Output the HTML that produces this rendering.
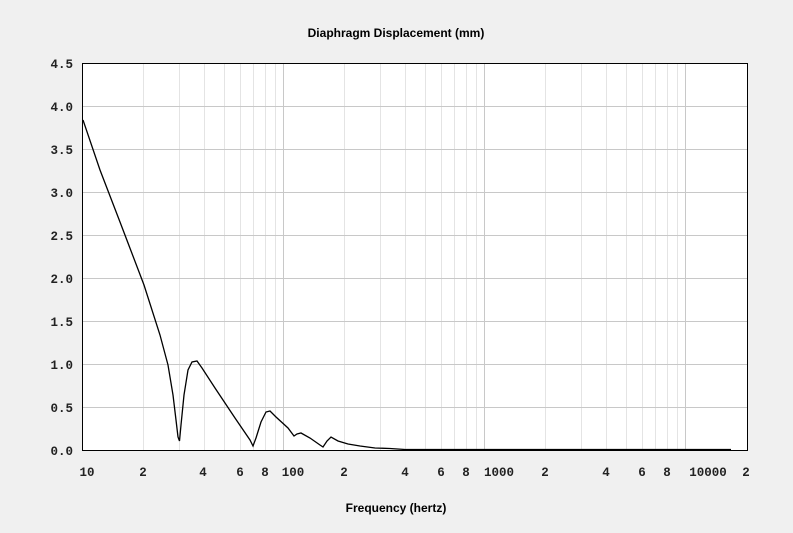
<!DOCTYPE html><html><head><style>body{margin:0;background:#f0f0f0}svg{display:block}</style></head><body>
<svg width="793" height="533" xmlns="http://www.w3.org/2000/svg">
<rect width="793" height="533" fill="#f0f0f0"/>
<rect x="82.5" y="63.5" width="665" height="387" fill="#fff"/>
<g stroke="#e4e4e4" stroke-width="1">
<path d="M143.5 63V450M179.5 63V450M204.5 63V450M224.5 63V450M240.5 63V450M253.5 63V450M265.5 63V450M275.5 63V450M344.5 63V450M380.5 63V450M405.5 63V450M425.5 63V450M441.5 63V450M454.5 63V450M466.5 63V450M476.5 63V450M545.5 63V450M581.5 63V450M606.5 63V450M626.5 63V450M642.5 63V450M655.5 63V450M667.5 63V450M677.5 63V450"/>
</g>
<g stroke="#c8c8c8" stroke-width="1">
<path d="M283.5 63V450M484.5 63V450M685.5 63V450M83 106.5H747M83 149.5H747M83 192.5H747M83 235.5H747M83 278.5H747M83 321.5H747M83 364.5H747M83 407.5H747"/>
</g>
<rect x="82.5" y="63.5" width="665" height="387" fill="none" stroke="#000"/>
<polyline fill="none" stroke="#000" stroke-width="1.3" points="83,120 100,170 120,222 144,285 160,335 168,365 173,395 176,420 178,437 179.5,441 181,425 184,395 188,370 192,362 197,361 202,368 215,388 235,418 250,440 253,446 256,438 261,422 266,412 270,411 276,417 288,428 294,436 297,434 301,433 310,438 320,445 323,447 327,441 331,437 338,441 348,444 360,446 375,448 390,448.5 405,449.5 731,449.5"/>
<text x="396" y="37" text-anchor="middle" font-family="Liberation Sans, sans-serif" font-weight="bold" font-size="12">Diaphragm Displacement (mm)</text>
<text x="396" y="512" text-anchor="middle" font-family="Liberation Sans, sans-serif" font-weight="bold" font-size="12">Frequency (hertz)</text>
<g font-family="Liberation Mono, monospace" font-weight="bold" font-size="12.5" fill="#222" text-anchor="end">
<text x="73" y="68">4.5</text><text x="73" y="111">4.0</text><text x="73" y="154">3.5</text><text x="73" y="197">3.0</text><text x="73" y="240">2.5</text><text x="73" y="283">2.0</text><text x="73" y="326">1.5</text><text x="73" y="369">1.0</text><text x="73" y="412">0.5</text><text x="73" y="455">0.0</text>
</g>
<g font-family="Liberation Mono, monospace" font-weight="bold" font-size="12.5" fill="#222" text-anchor="middle">
<text x="87" y="476">10</text><text x="143" y="476">2</text><text x="203" y="476">4</text><text x="240" y="476">6</text><text x="265" y="476">8</text><text x="293" y="476">100</text><text x="344" y="476">2</text><text x="405" y="476">4</text><text x="441" y="476">6</text><text x="466" y="476">8</text><text x="499" y="476">1000</text><text x="545" y="476">2</text><text x="606" y="476">4</text><text x="642" y="476">6</text><text x="667" y="476">8</text><text x="708" y="476">10000</text><text x="746" y="476">2</text>
</g>
</svg></body></html>
